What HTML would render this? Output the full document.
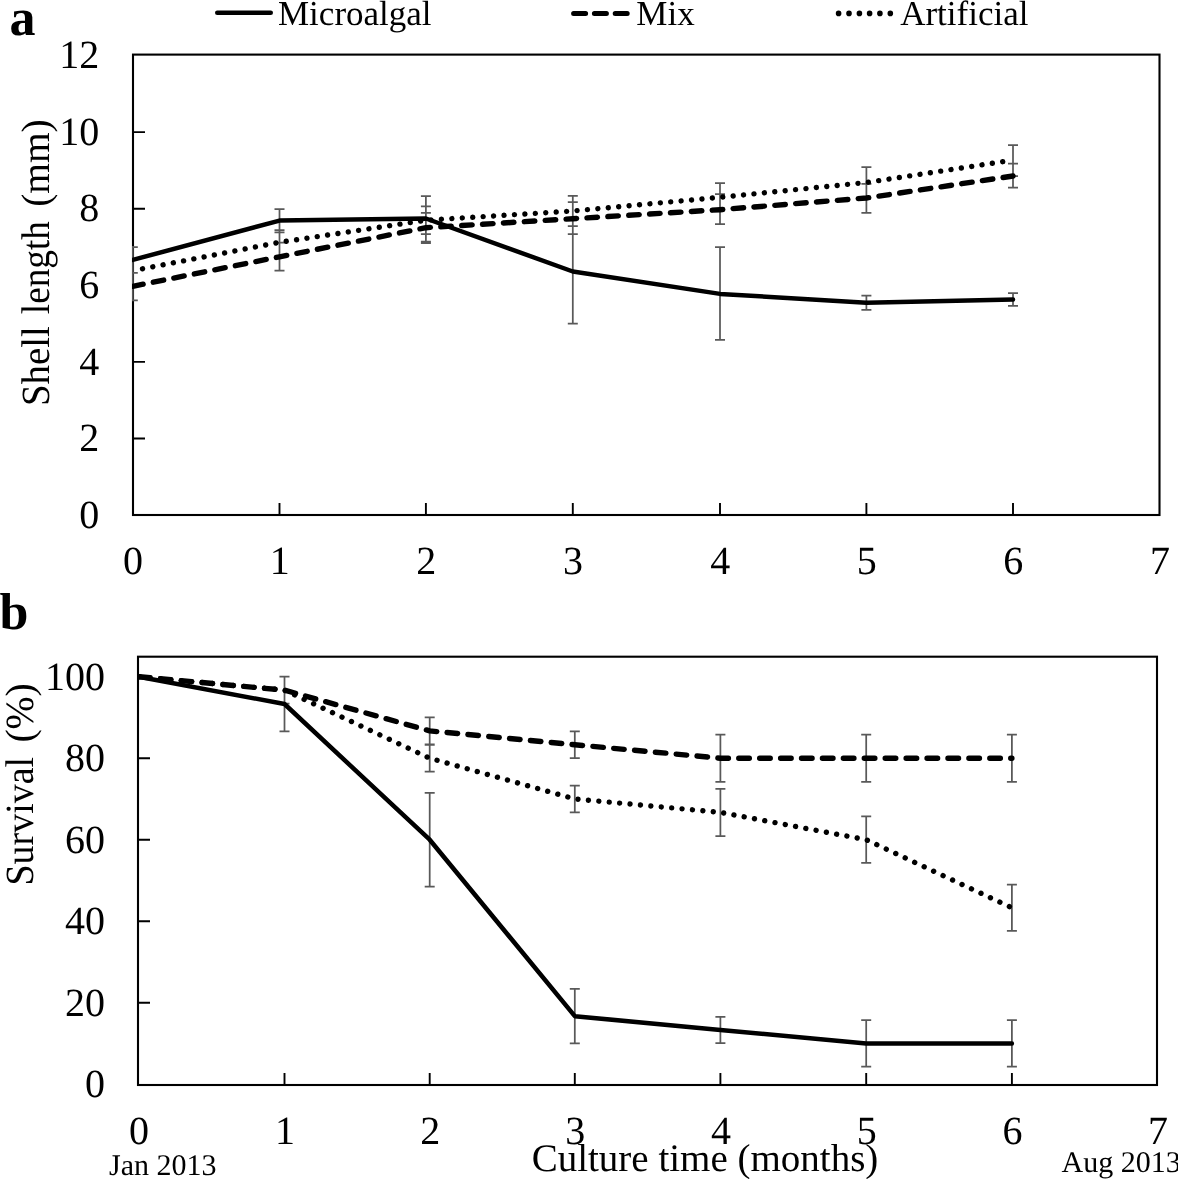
<!DOCTYPE html><html><head><meta charset="utf-8"><title>Shell length and survival</title>
<style>html,body{margin:0;padding:0;background:#fff;width:1178px;height:1179px;overflow:hidden}svg{display:block;filter:grayscale(100%)}text{font-family:"Liberation Serif", serif;fill:#000;font-variant-ligatures:none;text-rendering:geometricPrecision}</style></head><body>
<svg width="1178" height="1179" viewBox="0 0 1178 1179">
<rect width="1178" height="1179" fill="#fff"/>
<defs><clipPath id="ca"><rect x="132" y="53" width="1029" height="463.5"/></clipPath><clipPath id="cb"><rect x="137" y="655.5" width="1021" height="430.5"/></clipPath></defs>
<rect x="133.00" y="54.60" width="1026.50" height="460.40" fill="none" stroke="#000" stroke-width="2.1"/>
<path d="M133.00 438.50 H145.00 M133.00 361.90 H145.00 M133.00 285.30 H145.00 M133.00 208.70 H145.00 M133.00 132.10 H145.00 M279.50 515.00 V503.00 M425.90 515.00 V503.00 M572.80 515.00 V503.00 M720.00 515.00 V503.00 M866.40 515.00 V503.00 M1013.00 515.00 V503.00" stroke="#000" stroke-width="1.9" fill="none"/>
<text x="0" y="0" font-size="40" text-anchor="end" transform="translate(99.20 527.70) scale(1 1.0)">0</text>
<text x="0" y="0" font-size="40" text-anchor="end" transform="translate(99.20 451.10) scale(1 1.0)">2</text>
<text x="0" y="0" font-size="40" text-anchor="end" transform="translate(99.20 374.50) scale(1 1.0)">4</text>
<text x="0" y="0" font-size="40" text-anchor="end" transform="translate(99.20 297.90) scale(1 1.0)">6</text>
<text x="0" y="0" font-size="40" text-anchor="end" transform="translate(99.20 221.30) scale(1 1.0)">8</text>
<text x="0" y="0" font-size="40" text-anchor="end" transform="translate(99.20 144.70) scale(1 1.0)">10</text>
<text x="0" y="0" font-size="40" text-anchor="end" transform="translate(99.20 68.10) scale(1 1.0)">12</text>
<text x="0" y="0" font-size="40" text-anchor="middle" transform="translate(133.10 574.20) scale(1 1.0)">0</text>
<text x="0" y="0" font-size="40" text-anchor="middle" transform="translate(279.80 574.20) scale(1 1.0)">1</text>
<text x="0" y="0" font-size="40" text-anchor="middle" transform="translate(426.20 574.20) scale(1 1.0)">2</text>
<text x="0" y="0" font-size="40" text-anchor="middle" transform="translate(573.10 574.20) scale(1 1.0)">3</text>
<text x="0" y="0" font-size="40" text-anchor="middle" transform="translate(720.30 574.20) scale(1 1.0)">4</text>
<text x="0" y="0" font-size="40" text-anchor="middle" transform="translate(866.70 574.20) scale(1 1.0)">5</text>
<text x="0" y="0" font-size="40" text-anchor="middle" transform="translate(1013.30 574.20) scale(1 1.0)">6</text>
<text x="0" y="0" font-size="40" text-anchor="middle" transform="translate(1159.90 574.20) scale(1 1.0)">7</text>
<text x="0.00" y="0.00" font-size="40" text-anchor="start" font-weight="normal" transform="translate(49.3 406.00) rotate(-90) scale(0.9705 1)">Shell</text>
<text x="0.00" y="0.00" font-size="40" text-anchor="start" font-weight="normal" transform="translate(49.3 314.20) rotate(-90) scale(0.9310 1)">length</text>
<text x="0.00" y="0.00" font-size="40" text-anchor="start" font-weight="normal" transform="translate(49.3 206.80) rotate(-90) scale(0.9850 1)">(mm)</text>
<g clip-path="url(#ca)">
<path d="M132.80 246.00 V301.00 M127.80 247.00 H137.80 M127.80 272.80 H137.80 M127.80 300.30 H137.80" fill="none" stroke="#595959" stroke-width="1.75"/>
<path d="M279.50 209.00 V270.60 M274.50 209.00 H284.50 M274.50 230.10 H284.50 M274.50 232.40 H284.50 M274.50 242.70 H284.50 M274.50 270.60 H284.50" fill="none" stroke="#595959" stroke-width="1.75"/>
<path d="M425.90 196.00 V242.00 M420.90 196.00 H430.90 M420.90 206.40 H430.90 M420.90 212.90 H430.90 M420.90 234.00 H430.90 M420.90 241.60 H430.90 M420.90 243.20 H430.90" fill="none" stroke="#595959" stroke-width="1.75"/>
<path d="M572.80 195.80 V323.70 M567.80 195.80 H577.80 M567.80 202.20 H577.80 M567.80 226.00 H577.80 M567.80 234.00 H577.80 M567.80 323.70 H577.80" fill="none" stroke="#595959" stroke-width="1.75"/>
<path d="M720.00 183.00 V224.20 M720.00 247.10 V339.80 M715.00 183.00 H725.00 M715.00 194.10 H725.00 M715.00 224.20 H725.00 M715.00 247.10 H725.00 M715.00 339.80 H725.00" fill="none" stroke="#595959" stroke-width="1.75"/>
<path d="M866.40 167.00 V212.80 M866.40 295.70 V309.90 M861.40 167.00 H871.40 M861.40 183.90 H871.40 M861.40 212.80 H871.40 M861.40 295.70 H871.40 M861.40 309.90 H871.40" fill="none" stroke="#595959" stroke-width="1.75"/>
<path d="M1013.00 145.00 V187.70 M1013.00 293.20 V305.80 M1008.00 145.00 H1018.00 M1008.00 163.50 H1018.00 M1008.00 176.00 H1018.00 M1008.00 187.70 H1018.00 M1008.00 293.20 H1018.00 M1008.00 305.80 H1018.00" fill="none" stroke="#595959" stroke-width="1.75"/>
<path d="M132.80 286.30 L279.50 256.80 L425.90 227.70 L572.80 218.70 L720.00 209.70 L866.40 198.00 L1013.00 176.00" fill="none" stroke="#000" stroke-width="5.4" stroke-linejoin="round" stroke-linecap="round" stroke-dasharray="10.55 10.37" stroke-dashoffset="0"/>
<path d="M132.80 270.70 L279.50 242.30 L425.90 220.20 L572.80 211.00 L720.00 197.30 L866.40 182.50 L1013.00 160.10" fill="none" stroke="#000" stroke-width="5.4" stroke-linejoin="round" stroke-linecap="round" stroke-dasharray="0.01 10.443" stroke-dashoffset="0.55"/>
<path d="M132.80 259.90 L279.50 220.60 L425.90 218.50 L572.80 271.50 L720.00 293.90 L866.40 302.70 L1013.00 299.40" fill="none" stroke="#000" stroke-width="4.5" stroke-linejoin="round" stroke-linecap="round"/>
</g>
<text x="9.50" y="34.50" font-size="52" text-anchor="start" font-weight="bold" >a</text>
<path d="M217.25 12.65 H270.75" stroke="#000" stroke-width="4.5" stroke-linecap="round"/>
<text x="278.00" y="24.50" font-size="35" text-anchor="start" font-weight="normal" >Microalgal</text>
<path d="M573.6 13.5 H585.6 M594.4 13.5 H606.4 M615.2 13.5 H627.2" stroke="#000" stroke-width="5.0" stroke-linecap="round"/>
<text x="636.30" y="24.50" font-size="35" text-anchor="start" font-weight="normal" >Mix</text>
<path d="M838.60 13.4 h0.01 M849.00 13.4 h0.01 M859.40 13.4 h0.01 M869.60 13.4 h0.01 M879.90 13.4 h0.01 M890.30 13.4 h0.01" stroke="#000" stroke-width="5.6" stroke-linecap="round"/>
<text x="900.20" y="24.50" font-size="35" text-anchor="start" font-weight="normal" >Artificial</text>
<rect x="138.00" y="656.70" width="1019.00" height="428.30" fill="none" stroke="#000" stroke-width="2.1"/>
<path d="M138.00 1002.70 H150.00 M138.00 921.20 H150.00 M138.00 839.70 H150.00 M138.00 758.20 H150.00 M138.00 676.70 H150.00 M284.50 1085.00 V1073.00 M429.70 1085.00 V1073.00 M574.80 1085.00 V1073.00 M720.40 1085.00 V1073.00 M866.20 1085.00 V1073.00 M1011.90 1085.00 V1073.00" stroke="#000" stroke-width="1.9" fill="none"/>
<text x="0" y="0" font-size="40" text-anchor="end" transform="translate(105.00 1097.40) scale(1 1.0)">0</text>
<text x="0" y="0" font-size="40" text-anchor="end" transform="translate(105.00 1015.90) scale(1 1.0)">20</text>
<text x="0" y="0" font-size="40" text-anchor="end" transform="translate(105.00 934.40) scale(1 1.0)">40</text>
<text x="0" y="0" font-size="40" text-anchor="end" transform="translate(105.00 852.90) scale(1 1.0)">60</text>
<text x="0" y="0" font-size="40" text-anchor="end" transform="translate(105.00 771.40) scale(1 1.0)">80</text>
<text x="0" y="0" font-size="40" text-anchor="end" transform="translate(105.00 689.90) scale(1 1.0)">100</text>
<text x="0" y="0" font-size="40" text-anchor="middle" transform="translate(139.10 1143.80) scale(1 1.0)">0</text>
<text x="0" y="0" font-size="40" text-anchor="middle" transform="translate(285.00 1143.80) scale(1 1.0)">1</text>
<text x="0" y="0" font-size="40" text-anchor="middle" transform="translate(430.20 1143.80) scale(1 1.0)">2</text>
<text x="0" y="0" font-size="40" text-anchor="middle" transform="translate(575.30 1143.80) scale(1 1.0)">3</text>
<text x="0" y="0" font-size="40" text-anchor="middle" transform="translate(720.90 1143.80) scale(1 1.0)">4</text>
<text x="0" y="0" font-size="40" text-anchor="middle" transform="translate(866.70 1143.80) scale(1 1.0)">5</text>
<text x="0" y="0" font-size="40" text-anchor="middle" transform="translate(1012.40 1143.80) scale(1 1.0)">6</text>
<text x="0" y="0" font-size="40" text-anchor="middle" transform="translate(1157.90 1143.80) scale(1 1.0)">7</text>
<text x="0.00" y="0.00" font-size="40" text-anchor="start" font-weight="normal" transform="translate(33.3 885.50) rotate(-90) scale(0.9480 1)">Survival</text>
<text x="0.00" y="0.00" font-size="40" text-anchor="start" font-weight="normal" transform="translate(33.3 742.60) rotate(-90) scale(0.9910 1)">(%)</text>
<g clip-path="url(#cb)">
<path d="M284.50 676.70 V731.31 M284.50 676.70 V703.60 M284.50 676.70 V703.60 M279.50 676.70 H289.50 M279.50 731.31 H289.50 M279.50 676.70 H289.50 M279.50 703.60 H289.50 M279.50 676.70 H289.50 M279.50 703.60 H289.50" fill="none" stroke="#595959" stroke-width="1.75"/>
<path d="M429.70 792.84 V886.56 M429.70 717.45 V744.35 M429.70 744.75 V771.65 M424.70 792.84 H434.70 M424.70 886.56 H434.70 M424.70 717.45 H434.70 M424.70 744.35 H434.70 M424.70 744.75 H434.70 M424.70 771.65 H434.70" fill="none" stroke="#595959" stroke-width="1.75"/>
<path d="M574.80 988.85 V1043.45 M574.80 731.31 V758.20 M574.80 785.50 V812.40 M569.80 988.85 H579.80 M569.80 1043.45 H579.80 M569.80 731.31 H579.80 M569.80 758.20 H579.80 M569.80 785.50 H579.80 M569.80 812.40 H579.80" fill="none" stroke="#595959" stroke-width="1.75"/>
<path d="M720.40 1016.96 V1043.04 M720.40 734.57 V781.84 M720.40 788.76 V836.03 M715.40 1016.96 H725.40 M715.40 1043.04 H725.40 M715.40 734.57 H725.40 M715.40 781.84 H725.40 M715.40 788.76 H725.40 M715.40 836.03 H725.40" fill="none" stroke="#595959" stroke-width="1.75"/>
<path d="M866.20 1020.22 V1066.68 M866.20 734.57 V781.84 M866.20 816.47 V862.93 M861.20 1020.22 H871.20 M861.20 1066.68 H871.20 M861.20 734.57 H871.20 M861.20 781.84 H871.20 M861.20 816.47 H871.20 M861.20 862.93 H871.20" fill="none" stroke="#595959" stroke-width="1.75"/>
<path d="M1011.90 1020.22 V1066.68 M1011.90 734.57 V781.84 M1011.90 884.53 V930.98 M1006.90 1020.22 H1016.90 M1006.90 1066.68 H1016.90 M1006.90 734.57 H1016.90 M1006.90 781.84 H1016.90 M1006.90 884.53 H1016.90 M1006.90 930.98 H1016.90" fill="none" stroke="#595959" stroke-width="1.75"/>
<path d="M138.60 676.70 L284.50 690.15 L429.70 730.90 L574.80 744.75 L720.40 758.20 L866.20 758.20 L1011.90 758.20" fill="none" stroke="#000" stroke-width="5.4" stroke-linejoin="round" stroke-linecap="round" stroke-dasharray="10.55 10.37" stroke-dashoffset="-1.0"/>
<path d="M138.60 676.70 L284.50 690.15 L429.70 758.20 L574.80 798.95 L720.40 812.40 L866.20 839.70 L1011.90 907.75" fill="none" stroke="#000" stroke-width="5.4" stroke-linejoin="round" stroke-linecap="round" stroke-dasharray="0.01 10.44" stroke-dashoffset="-1.0"/>
<path d="M138.60 676.70 L284.50 704.00 L429.70 839.70 L574.80 1016.15 L720.40 1030.00 L866.20 1043.45 L1011.90 1043.45" fill="none" stroke="#000" stroke-width="4.5" stroke-linejoin="round" stroke-linecap="round"/>
</g>
<text x="-0.50" y="628.50" font-size="52" text-anchor="start" font-weight="bold" >b</text>
<text x="109.00" y="1175.00" font-size="30" text-anchor="start" font-weight="normal" >Jan 2013</text>
<text x="1061.60" y="1172.00" font-size="30" text-anchor="start" font-weight="normal" >Aug 2013</text>
<text x="705.00" y="1171.00" font-size="39" text-anchor="middle" font-weight="normal" >Culture time (months)</text>
</svg></body></html>
